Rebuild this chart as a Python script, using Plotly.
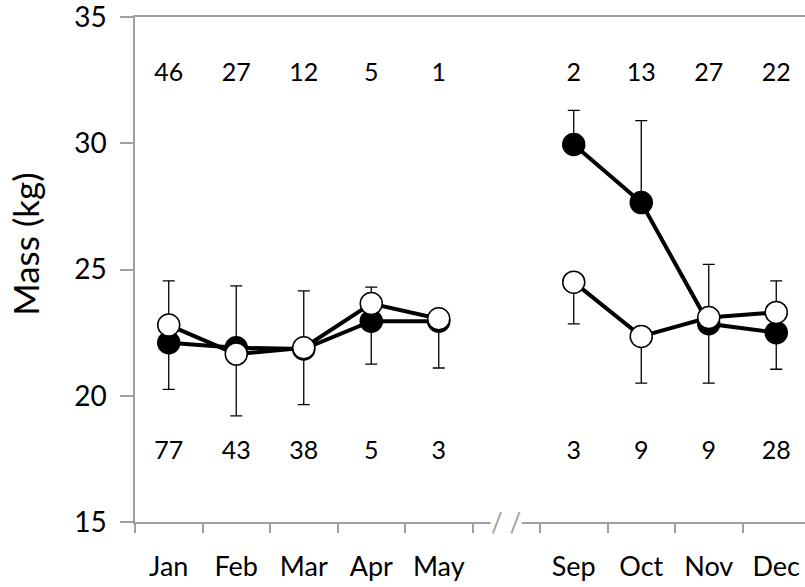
import plotly.graph_objects as go

months = ["Jan", "Feb", "Mar", "Apr", "May", " ", "Sep", "Oct", "Nov", "Dec"]

filled_mass = [22.1, 21.9, 21.85, 22.95, 22.95, None, 29.95, 27.65, 22.85, 22.5]
filled_err_plus = [0, 2.45, 2.3, 0, 0, None, 1.35, 3.25, 0, 0]
filled_err_minus = [1.85, 0, 0, 1.7, 1.85, None, 0, 0, 2.35, 1.45]

open_mass = [22.8, 21.65, 21.9, 23.65, 23.05, None, 24.5, 22.35, 23.1, 23.3]
open_err_plus = [1.75, 0, 0, 0.65, 0, None, 0, 0, 2.1, 1.25]
open_err_minus = [0, 2.45, 2.25, 0, 0, None, 1.65, 1.85, 0, 0]

n_top = [46, 27, 12, 5, 1, None, 2, 13, 27, 22]
n_bottom = [77, 43, 38, 5, 3, None, 3, 9, 9, 28]

FONT = "Lato"
GRAY = "#a0a0a0"

fig = go.Figure()

fig.add_trace(go.Scatter(
    x=months, y=filled_mass, mode="lines+markers",
    line=dict(color="black", width=4),
    marker=dict(size=22, color="black", line=dict(color="black", width=1.5)),
    error_y=dict(type="data", symmetric=False, array=filled_err_plus,
                 arrayminus=filled_err_minus, color="black", thickness=1.3, width=6),
    showlegend=False, hoverinfo="skip",
))
fig.add_trace(go.Scatter(
    x=months, y=open_mass, mode="lines+markers",
    line=dict(color="black", width=4),
    marker=dict(size=22, color="white", line=dict(color="black", width=1.5)),
    error_y=dict(type="data", symmetric=False, array=open_err_plus,
                 arrayminus=open_err_minus, color="black", thickness=1.3, width=6),
    showlegend=False, hoverinfo="skip",
))

fig.add_trace(go.Scatter(
    x=months, y=[32.7 if v is not None else None for v in n_top], mode="text",
    text=[str(v) if v is not None else "" for v in n_top],
    textfont=dict(family=FONT, size=25, color="black"),
    showlegend=False, hoverinfo="skip",
))
fig.add_trace(go.Scatter(
    x=months, y=[17.75 if v is not None else None for v in n_bottom], mode="text",
    text=[str(v) if v is not None else "" for v in n_bottom],
    textfont=dict(family=FONT, size=25, color="black"),
    showlegend=False, hoverinfo="skip",
))

# axis break mark
fig.add_annotation(x=" ", y=15, xref="x", yref="y", text="/ /", showarrow=False,
                   font=dict(family=FONT, size=26, color=GRAY), bgcolor="white",
                   borderpad=0)

# y-axis title
fig.add_annotation(xref="paper", yref="paper", x=0, y=0.549, xshift=-133,
                   text="Mass (kg)", textangle=-90, showarrow=False,
                   font=dict(family=FONT, size=35, color="black"))

fig.update_layout(
    width=805, height=587,
    margin=dict(l=135, r=0, t=17, b=65),
    paper_bgcolor="white", plot_bgcolor="white",
    font=dict(family=FONT, color="black"),
)
fig.update_xaxes(
    type="category", categoryorder="array", categoryarray=months,
    range=[-0.5, 9.426], tickson="boundaries", automargin=False,
    showline=True, linecolor=GRAY, linewidth=1.5, mirror=True,
    ticks="outside", ticklen=9, tickcolor=GRAY, tickwidth=1.5,
    tickfont=dict(family=FONT, size=27), ticklabelstandoff=20,
    showgrid=False, zeroline=False,
)
fig.update_yaxes(
    range=[15, 35], tickvals=[15, 20, 25, 30, 35], automargin=False,
    showline=True, linecolor=GRAY, linewidth=1.5,
    ticks="outside", ticklen=13, tickcolor=GRAY, tickwidth=1.5,
    tickfont=dict(family=FONT, size=28), ticklabelstandoff=8,
    ticklabeloverflow="allow",
    showgrid=False, zeroline=False,
)

fig.write_html("out.html")
